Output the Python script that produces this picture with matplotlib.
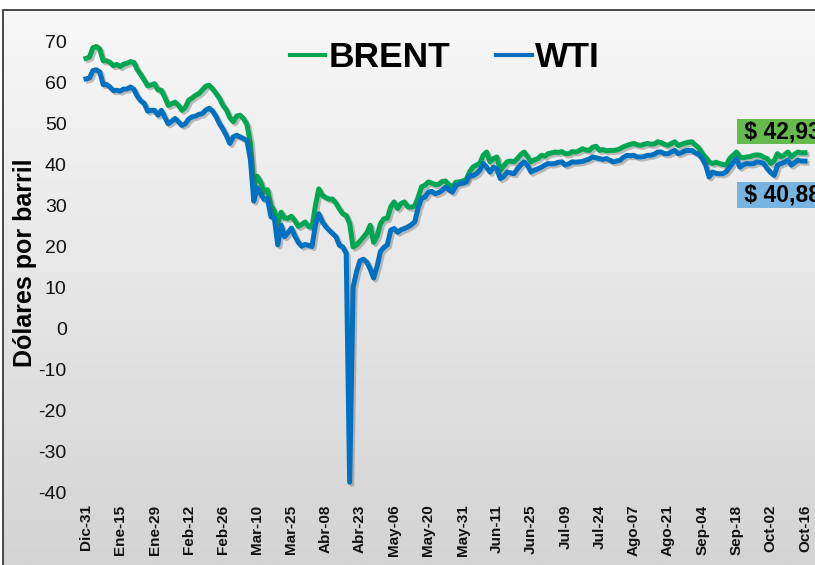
import numpy as np
import matplotlib
matplotlib.use("Agg")
import matplotlib.pyplot as plt
import matplotlib.patheffects as pe
from matplotlib.patches import Rectangle
from matplotlib.colors import LinearSegmentedColormap

matplotlib.rcParams['font.family'] = 'Liberation Sans'
matplotlib.rcParams['axes.unicode_minus'] = False

date_labels = ["Dic-31", "Ene-15", "Ene-29", "Feb-12", "Feb-26", "Mar-10", "Mar-25",
               "Abr-08", "Abr-23", "May-06", "May-20", "May-31", "Jun-11", "Jun-25",
               "Jul-09", "Jul-24", "Ago-07", "Ago-21", "Sep-04", "Sep-18", "Oct-02", "Oct-16"]

# daily prices (USD/barrel), Dec-31 .. Oct-16
brent = [
    66.0, 66.3, 68.6, 68.9, 68.3, 65.4, 65.4, 65.0, 64.2, 64.5,
    64.0, 64.6, 64.8, 65.2, 65.0, 63.2, 62.0, 60.7, 59.3, 59.5,
    59.8, 58.3, 58.2, 56.5, 54.5, 54.9, 55.3, 54.5, 53.3, 54.0,
    55.8, 56.3, 57.0, 57.4, 58.3, 59.2, 59.4, 58.5, 57.4, 56.2,
    54.5, 53.4, 51.5, 50.5, 51.9, 52.1, 51.3, 49.8, 45.3, 34.4,
    37.2, 35.8, 33.3, 33.9, 30.1, 28.7, 25.5, 28.4, 27.0, 26.9,
    27.4, 26.3, 24.9, 25.4, 26.0, 24.9, 24.7, 30.0, 34.1, 32.5,
    32.0, 31.6, 31.6, 30.6, 29.2, 28.0, 27.6, 25.6, 19.9, 20.4,
    21.3, 22.3, 23.3, 25.2, 21.0, 22.5, 25.6, 26.8, 26.9, 29.7,
    30.9, 29.3, 30.5, 30.9, 29.7, 29.6, 29.9, 32.0, 34.6, 35.0,
    35.8, 35.5, 35.1, 35.2, 35.9, 36.0, 35.1, 34.6, 35.7, 35.8,
    36.0, 36.3, 38.2, 39.4, 39.9, 40.3, 42.3, 43.1, 40.7, 41.5,
    41.9, 38.6, 39.7, 40.7, 40.9, 40.7, 41.5, 42.5, 43.1, 41.9,
    40.7, 41.2, 41.5, 42.3, 42.1, 42.7, 42.9, 43.1, 43.0, 43.2,
    42.7, 42.7, 43.2, 43.1, 43.4, 43.9, 43.6, 43.5, 44.3, 44.5,
    43.5, 43.7, 43.4, 43.5, 43.5, 43.6, 43.9, 44.4, 44.7, 45.0,
    45.2, 44.9, 44.7, 45.0, 45.2, 45.0, 45.1, 45.6, 45.4, 45.0,
    44.7, 45.2, 45.6, 44.7, 45.0, 45.3, 45.5, 45.6, 44.8, 44.1,
    42.7, 41.8, 40.7, 40.3, 40.6, 40.3, 40.1, 39.9, 41.5, 42.3,
    43.1, 41.9, 41.7, 41.9, 42.0, 42.3, 42.4, 42.3, 41.8, 41.5,
    40.3, 41.0, 42.7, 41.9, 42.4, 43.1, 41.9, 42.6, 43.1, 42.9,
    42.93]

wti = [
    61.0, 61.2, 63.0, 63.2, 62.7, 59.6, 59.6, 59.0, 58.1, 58.2,
    58.0, 58.5, 58.5, 59.0, 58.4, 56.7, 55.6, 55.0, 53.1, 53.3,
    53.3, 52.1, 53.3, 51.6, 50.0, 50.6, 51.3, 50.5, 49.6, 50.0,
    51.2, 51.7, 51.9, 52.3, 52.5, 53.4, 53.8, 53.1, 51.7, 50.0,
    48.7, 47.1, 45.2, 46.8, 47.2, 46.8, 46.4, 45.9, 41.3, 31.1,
    34.4, 32.9, 31.5, 31.7, 27.3, 26.9, 20.4, 25.2, 22.4, 23.4,
    24.5, 22.6, 21.0, 20.1, 20.5, 20.3, 20.0, 25.3, 28.0, 26.1,
    24.9, 24.0, 23.2, 22.4, 20.3, 19.9, 18.3, -37.6, 10.0, 13.8,
    16.5, 16.9, 16.2, 14.5, 12.3, 15.1, 18.8, 19.8, 20.4, 24.0,
    24.4, 23.5, 24.1, 24.4, 24.8, 25.3, 26.0, 29.4, 31.8, 32.1,
    33.3, 33.5, 32.9, 33.2, 33.7, 34.5, 33.9, 33.3, 34.9, 35.4,
    35.5, 35.8, 37.4, 37.3, 37.8, 38.6, 40.3, 39.4, 38.2, 39.4,
    39.0, 36.6, 37.1, 38.2, 38.0, 37.8, 39.0, 40.0, 40.7, 39.8,
    38.2, 38.7, 39.0, 39.4, 39.9, 40.3, 40.2, 40.3, 40.6, 40.7,
    39.9, 40.2, 40.7, 40.6, 40.7, 40.8, 41.1, 41.4, 41.9, 41.7,
    41.5, 41.3, 41.5, 41.1, 40.7, 40.9, 41.1, 41.8, 42.3, 42.2,
    42.3, 41.9, 41.9, 42.0, 42.3, 42.3, 42.6, 43.1, 43.1, 42.7,
    42.7, 43.1, 43.5, 42.7, 43.0, 43.4, 43.5, 43.5, 42.9, 42.5,
    41.5, 39.9, 37.0, 38.2, 37.9, 37.8, 37.8, 38.3, 39.4, 40.5,
    41.5, 39.4, 40.0, 40.3, 40.2, 40.3, 40.7, 40.6, 40.3, 39.0,
    38.1, 37.4, 39.9, 40.3, 40.6, 41.1, 39.9, 40.5, 41.1, 40.9,
    40.88]

yticks = list(range(-40, 71, 10))

W, H = 815, 565
fig = plt.figure(figsize=(W / 100, H / 100), dpi=100)

# background: grey gradient inside a thin frame
bg = fig.add_axes([0, 0, 1, 1], zorder=-10)
bg.axis("off")
left, top = 3 / W, 1 - 10 / H
grad = np.linspace(0, 1, 256).reshape(-1, 1)
cmap = LinearSegmentedColormap.from_list("bg", ["#f8f8f8", "#d4d4d4"])
bg.imshow(grad, cmap=cmap, aspect="auto", extent=[left, 1, 0, top], origin="upper")
bg.add_patch(Rectangle((left, -0.1), 1.1, top + 0.1, fill=False, edgecolor="#3a3a3a", lw=1.3))
bg.set_xlim(0, 1)
bg.set_ylim(0, 1)

ax = fig.add_axes([79.2 / W, 1 - 496.1 / H, (811.8 - 79.2) / W, (496.1 - 37.9) / H])
ax.set_facecolor("none")
for s in ax.spines.values():
    s.set_visible(False)

x = np.arange(len(brent))
shadow = [pe.SimpleLineShadow(offset=(1.5, -1.5), shadow_color="#555555", alpha=0.35), pe.Normal()]
ax.plot(x, brent, color="#00a651", lw=3.6, solid_joinstyle="round", label="BRENT", path_effects=shadow)
ax.plot(x, wti, color="#0070c0", lw=3.6, solid_joinstyle="round", label="WTI", path_effects=shadow)

ax.set_xlim(-2, 212)
ax.set_ylim(-41, 71)
ax.set_yticks(yticks)
ax.set_yticklabels([str(v) for v in yticks], fontsize=14, color="#111111")
ax.set_xticks(np.arange(0, len(brent), 10))
ax.set_xticklabels(date_labels, rotation=90, fontsize=11, fontweight="bold", color="#111111")
ax.tick_params(axis="y", length=0, pad=9)
ax.tick_params(axis="x", length=0, pad=6)

ylab = ax.set_ylabel("Dólares por barril", fontsize=18, fontweight="bold")
ax.yaxis.set_label_coords(-0.074, 0.51)
ylab.set_va("center")

leg = ax.legend(loc="center", bbox_to_anchor=(445 / W, 1 - 58 / H), bbox_transform=fig.transFigure,
                ncol=2, frameon=False, handlelength=1.0, handletextpad=0.1, columnspacing=1.3,
                prop={"weight": "bold", "size": 25.5})
for h in leg.get_lines():
    h.set_linewidth(3.0)
    h.set_path_effects([])

fmt = lambda v: "$ " + f"{v:.2f}".replace(".", ",")
ax.annotate(" " + fmt(brent[-1]), xy=(x[-1], brent[-1]), xytext=(-67, 21), textcoords="offset pixels",
            ha="left", va="center", fontsize=16.5, fontweight="bold",
            bbox=dict(boxstyle="square,pad=0.05", fc="#66bb4f", ec="none"))
ax.annotate(" " + fmt(wti[-1]), xy=(x[-1], wti[-1]), xytext=(-67, -34), textcoords="offset pixels",
            ha="left", va="center", fontsize=16.5, fontweight="bold",
            bbox=dict(boxstyle="square,pad=0.05", fc="#78b4e0", ec="none"))

fig.savefig("out.png", dpi=100)
